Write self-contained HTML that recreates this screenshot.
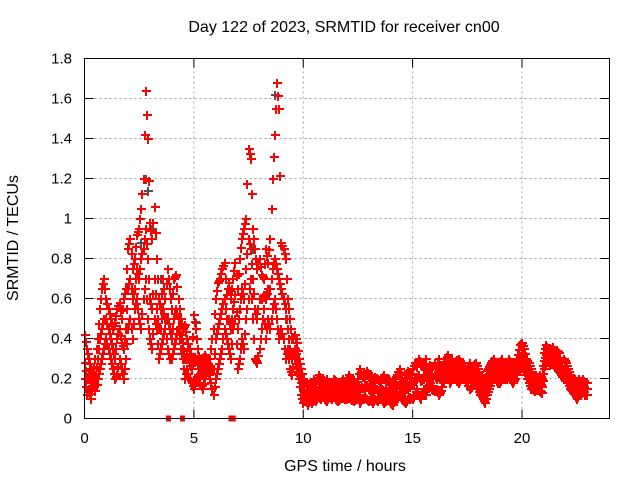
<!DOCTYPE html>
<html><head><meta charset="utf-8"><style>
body{margin:0;background:#fff}
svg{display:block;font-family:"Liberation Sans",sans-serif}
</style></head><body>
<svg id="chart" width="640" height="480" viewBox="0 0 640 480">
<rect width="640" height="480" fill="#fff"/>
<text x="344" y="32" font-size="16" text-anchor="middle">Day 122 of 2023, SRMTID for receiver cn00</text>
<text x="18" y="238" font-size="16" text-anchor="middle" transform="rotate(-90 18 238)">SRMTID / TECUs</text>
<text x="345" y="471" font-size="16" text-anchor="middle">GPS time / hours</text>
<g id="grid"></g>
<g id="marks"></g>
<rect x="84.5" y="58.5" width="525" height="360" fill="none" stroke="#000" stroke-width="1"/>
</svg>
<script>
const xTicks=[0,5,10,15,20];
const yTicks=[0,0.2,0.4,0.6,0.8,1,1.2,1.4,1.6,1.8];
const yTickLabels=["0","0.2","0.4","0.6","0.8","1","1.2","1.4","1.6","1.8"];
const loVals=[.2,.12,.15,.1,.18,.14,.2,.25,.3,.35,.4,.35,.3,.25,.2,.22,.3,.25,.2,.3,.45,.5,.4,.55,.6,.5,.45,.6,.7,.5,.4,.35,.5,.45,.3,.35,.4,.45,.35,.3,.3,.35,.4,.45,.35,.3,.2,.25,.2,.18,.15,.2,.22,.18,.15,.2,.25,.22,.18,.12,.2,.25,.3,.35,.45,.4,.35,.3,.45,.5,.25,.3,.4,.35,.5,.6,.7,.5,.3,.28,.35,.45,.55,.4,.5,.45,.55,.6,.5,.4,.45,.4,.3,.35,.25,.22,.3,.25,.2,.12,.08,.1,.07,.1,.08,.1,.09,.11,.1,.12,.1,.09,.11,.1,.12,.1,.09,.1,.11,.1,.1,.11,.1,.09,.1,.12,.08,.1,.11,.1,.09,.1,.08,.1,.09,.11,.1,.08,.09,.1,.08,.07,.1,.1,.12,.1,.09,.08,.1,.11,.1,.12,.15,.12,.1,.15,.12,.16,.18,.15,.14,.15,.12,.14,.18,.2,.22,.18,.2,.22,.2,.18,.2,.22,.2,.18,.15,.16,.2,.18,.15,.12,.1,.08,.12,.15,.18,.2,.2,.18,.18,.2,.2,.2,.22,.2,.18,.2,.24,.25,.28,.25,.22,.18,.15,.15,.14,.15,.14,.13,.25,.28,.3,.27,.28,.26,.25,.24,.22,.2,.2,.18,.15,.14,.12,.1,.12,.13,.15,.12];
const midVals=[.28,.2,.22,.18,.2,.22,.3,.4,.45,.5,.5,.45,.4,.35,.3,.4,.45,.38,.35,.45,.65,.7,.6,.65,.75,.7,.8,.85,.95,.8,.6,.55,.7,.55,.45,.45,.55,.5,.5,.45,.4,.5,.55,.5,.42,.38,.3,.32,.28,.25,.3,.3,.28,.22,.22,.26,.28,.24,.25,.25,.4,.45,.5,.55,.6,.5,.5,.45,.55,.62,.45,.55,.65,.6,.75,.9,.85,.7,.55,.5,.6,.6,.62,.6,.65,.65,.75,.8,.75,.7,.65,.6,.55,.45,.35,.3,.35,.3,.25,.18,.14,.13,.12,.14,.12,.15,.13,.16,.15,.15,.14,.15,.13,.13,.15,.14,.13,.14,.15,.13,.15,.16,.15,.13,.14,.16,.15,.16,.15,.17,.15,.14,.13,.16,.14,.15,.15,.14,.13,.15,.13,.12,.15,.16,.18,.15,.13,.15,.17,.16,.18,.2,.2,.22,.19,.2,.22,.19,.22,.2,.22,.2,.22,.2,.22,.25,.27,.23,.25,.25,.25,.24,.24,.23,.23,.21,.22,.2,.23,.23,.2,.17,.15,.13,.18,.2,.22,.25,.23,.23,.23,.25,.23,.24,.26,.24,.22,.24,.28,.3,.33,.3,.26,.23,.2,.18,.18,.17,.18,.16,.29,.32,.32,.3,.32,.3,.3,.28,.25,.25,.24,.22,.18,.17,.16,.14,.16,.15,.17,.15];
const hiVals=[.42,.35,.3,.25,.22,.3,.4,.55,.65,.7,.6,.55,.5,.45,.48,.55,.58,.5,.6,.65,.85,.9,.75,.8,.92,.95,1.05,1.2,1.64,1.4,.98,.9,1.06,.8,.6,.55,.7,.6,.75,.65,.55,.7,.72,.6,.5,.45,.47,.4,.35,.3,.52,.45,.35,.28,.3,.32,.3,.25,.35,.45,.6,.68,.7,.75,.78,.62,.68,.6,.7,.78,.65,.8,.9,.95,1.0,1.35,1.3,.95,.85,.75,.8,.72,.7,.85,.78,.9,1.2,1.42,1.68,1.55,.88,.85,.8,.6,.5,.4,.42,.38,.3,.25,.2,.18,.16,.18,.15,.2,.18,.22,.2,.19,.18,.2,.17,.16,.2,.19,.17,.18,.2,.17,.19,.22,.2,.18,.17,.2,.25,.22,.2,.24,.22,.2,.18,.21,.2,.19,.2,.22,.18,.2,.18,.16,.2,.22,.25,.2,.18,.22,.24,.2,.25,.28,.26,.3,.28,.25,.3,.22,.27,.25,.28,.25,.3,.24,.27,.3,.32,.28,.3,.27,.29,.3,.28,.25,.26,.24,.28,.25,.27,.28,.25,.22,.2,.18,.24,.26,.28,.3,.26,.28,.28,.3,.26,.27,.3,.28,.25,.28,.32,.37,.38,.35,.3,.28,.25,.22,.22,.2,.22,.2,.33,.37,.35,.34,.36,.33,.34,.33,.28,.3,.28,.25,.22,.2,.2,.18,.2,.18,.2,.18];
const grayT=[2.6,2.8,2.9,3.1,3.5,4.2,5.1,7.7,8.3,8.7,8.8,9.2];
const grayV=[.88,1.2,1.14,.95,.7,.72,.48,.85,.62,1.62,1.68,.5];
const zeroT=[3.84,4.48,6.7,6.8];
const NS="http://www.w3.org/2000/svg";
const X0=84.5,X1=609.5,Y0=418.5,Y1=58.5,XMAX=24,YMAX=1.8;
function sx(t){return X0+(X1-X0)*t/XMAX;}
function sy(v){return Y0-(Y0-Y1)*v/YMAX;}
const svg=document.getElementById('chart'),grid=document.getElementById('grid'),marks=document.getElementById('marks');
function mk(tag,attrs,parent){const e=document.createElementNS(NS,tag);for(const k in attrs)e.setAttribute(k,attrs[k]);parent.appendChild(e);return e;}
yTicks.forEach((v,i)=>{
  const y=sy(v);
  if(i>0&&i<yTicks.length-1){const g=mk('line',{x1:X0,x2:X1,y1:y,y2:y,stroke:'#a0a0a0','stroke-dasharray':'2,3'},grid);
  
  }
  mk('line',{x1:X0,x2:X0+9,y1:y,y2:y,stroke:'#000'},grid);
  mk('line',{x1:X1,x2:X1-9,y1:y,y2:y,stroke:'#000'},grid);
  const t=mk('text',{x:72,y:y+5,'font-size':15,'text-anchor':'end'},grid);t.textContent=yTickLabels[i];
  
  
});
xTicks.forEach(v=>{
  const x=sx(v);
  if(v>0){const g=mk('line',{x1:x,x2:x,y1:Y0,y2:Y1,stroke:'#a0a0a0','stroke-dasharray':'2,3'},grid);
  
  }
  mk('line',{x1:x,x2:x,y1:Y0,y2:Y0-9,stroke:'#000'},grid);
  mk('line',{x1:x,x2:x,y1:Y1,y2:Y1+9,stroke:'#000'},grid);
  const t=mk('text',{x:x,y:443,'font-size':15,'text-anchor':'middle'},grid);t.textContent=String(v);
  
  
});
function plus(t,v,color,name){
  const x=Math.round(sx(t)),y=Math.round(sy(v));
  const p=mk('path',{d:`M${x-4} ${y-1}h9v2h-9zM${x-1} ${y-4}h2v9h-2z`,fill:color,stroke:'none'},marks);
  
  
}
grayT.forEach((t,i)=>plus(t,grayV[i],'#505050','srmtid-point-gray'));
[loVals,midVals,hiVals].forEach(arr=>{
  arr.forEach((v,i)=>{const t=i*0.1;plus(t,v,'#ff0000','srmtid-point');plus(t+0.05,(v+arr[Math.min(i+1,arr.length-1)])/2,'#ff0000','srmtid-point');});
});
zeroT.forEach(t=>{
  const r=mk('rect',{x:sx(t)-2.5,y:Y0-3,width:5,height:6,fill:'#ff0000'},marks);
  
  
});
</script>
</body></html>
